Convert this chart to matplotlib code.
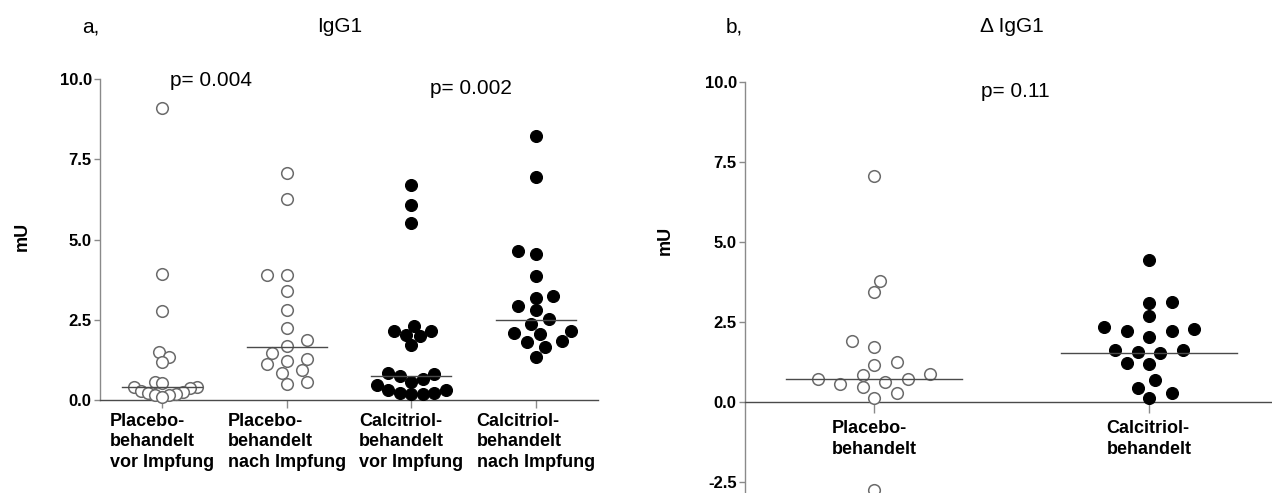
import numpy as np
import matplotlib
matplotlib.use("Agg")
import matplotlib.pyplot as plt

plt.rcParams["font.family"] = ["Liberation Sans", "DejaVu Sans"]

# panel a: IgG1 (mU)
groups_a = [
    "Placebo-\nbehandelt\nvor Impfung",
    "Placebo-\nbehandelt\nnach Impfung",
    "Calcitriol-\nbehandelt\nvor Impfung",
    "Calcitriol-\nbehandelt\nnach Impfung",
]
placebo_vor = [9.09, 3.91, 2.76, 1.48, 1.35, 1.18, 0.57, 0.54, 0.42, 0.42,
               0.36, 0.28, 0.26, 0.21, 0.18, 0.16, 0.16, 0.10]
placebo_nach = [7.08, 6.25, 3.88, 3.88, 3.41, 2.81, 2.23, 1.88, 1.69, 1.46,
                1.29, 1.23, 1.11, 0.92, 0.83, 0.57, 0.49]
calcitriol_vor = [6.70, 6.07, 5.52, 2.32, 2.14, 2.14, 2.03, 1.98, 1.70, 0.83,
                  0.81, 0.75, 0.65, 0.57, 0.47, 0.31, 0.31, 0.21, 0.21, 0.19, 0.18]
calcitriol_nach = [8.21, 6.95, 4.64, 4.56, 3.85, 3.23, 3.17, 2.92, 2.81, 2.52,
                   2.38, 2.14, 2.10, 2.06, 1.84, 1.82, 1.65, 1.35]
medians_a = [0.39, 1.66, 0.76, 2.48]
filled_a = [False, False, True, True]
pvals_a = ["p= 0.004", "p= 0.002"]

# panel b: delta IgG1 (mU)
groups_b = ["Placebo-\nbehandelt", "Calcitriol-\nbehandelt"]
delta_placebo = [7.05, 3.79, 3.45, 1.90, 1.72, 1.24, 1.17, 0.89, 0.84, 0.73,
                 0.71, 0.63, 0.55, 0.47, 0.28, 0.14, -2.75]
delta_calcitriol = [4.44, 3.13, 3.08, 2.70, 2.33, 2.29, 2.23, 2.23, 2.02, 1.62,
                    1.62, 1.56, 1.52, 1.23, 1.20, 0.68, 0.45, 0.29, 0.13]
medians_b = [0.73, 1.54]
filled_b = [False, True]
pval_b = "p= 0.11"

yticks_a = [0, 2.5, 5, 7.5, 10]
yticks_b = [-2.5, 0, 2.5, 5, 7.5, 10]

W, H = 1272, 493
GRAY = "#8a8a8a"
DARK = "#4a4a4a"


def greedy_swarm(ypix, gap_x, gap_y=11.0):
    # place points bottom-up at the free offset nearest the centre line
    step = gap_x / 4
    placed = []
    offs = np.zeros(len(ypix))
    right = left = 0
    for i in np.argsort(ypix):
        y = ypix[i]
        dx = 0.0
        for k in range(0, 200):
            signs = [1, -1] if right <= left else [-1, 1]
            cands = [0] if k == 0 else [s * k * step for s in signs]
            hit = None
            for c in cands:
                if all(((c - px) / gap_x) ** 2 + ((y - py) / gap_y) ** 2 >= 1
                       for px, py in placed):
                    hit = c
                    break
            if hit is not None:
                dx = hit
                break
        placed.append((dx, y))
        right += dx > 0
        left += dx < 0
        offs[i] = dx
    return offs


def swarm_offsets(ax, x0, values, gap_x, limit_px):
    trans = ax.transData
    vals = np.asarray(values, dtype=float)
    ypix = trans.transform(np.column_stack([np.full(len(vals), x0), vals]))[:, 1]
    unit = trans.transform([[1, 0]])[0, 0] - trans.transform([[0, 0]])[0, 0]
    g = gap_x
    offs = greedy_swarm(ypix, g)
    while np.abs(offs).max() > limit_px and g > 6:
        g -= 0.5
        offs = greedy_swarm(ypix, g)
    return offs / unit


def draw_group(ax, x0, values, filled, median, gap_x, limit_px):
    offs = swarm_offsets(ax, x0, values, gap_x, limit_px)
    if filled:
        ax.scatter(x0 + offs, values, s=74, facecolor="black", edgecolor="black",
                   linewidths=0.8, zorder=3, clip_on=False)
    else:
        ax.scatter(x0 + offs, values, s=70, facecolor="white", edgecolor="#6a6a6a",
                   linewidths=1.1, zorder=3, clip_on=False)
    ax.plot([x0 - 0.32, x0 + 0.32], [median, median], color=DARK, lw=1.0, zorder=4)


def style_axes(ax, yticks):
    for side in ("top", "right"):
        ax.spines[side].set_visible(False)
    ax.spines["left"].set_color(GRAY)
    ax.spines["left"].set_linewidth(1.0)
    ax.spines["bottom"].set_color(DARK)
    ax.spines["bottom"].set_linewidth(1.0)
    ax.set_yticks(yticks)
    ax.set_yticklabels([f"{t:.1f}" for t in yticks], fontsize=12, fontweight="bold")
    ax.tick_params(axis="y", length=4, width=1.0, color=GRAY, pad=2)
    ax.set_facecolor("none")


fig = plt.figure(figsize=(W / 100, H / 100), dpi=100)

# panel a
ax1 = fig.add_axes([100 / W, (H - 400) / H, 498 / W, 321 / H])
ax1.set_xlim(-0.5, 3.5)
ax1.set_ylim(0, 10)
style_axes(ax1, yticks_a)
ax1.set_xticks(range(len(groups_a)))
ax1.set_xticklabels(groups_a, fontsize=13, fontweight="bold", multialignment="left",
                    linespacing=1.3)
ax1.tick_params(axis="x", length=6, width=1.0, color=GRAY, pad=3)
for i, (vals, fill, med) in enumerate(zip(
        [placebo_vor, placebo_nach, calcitriol_vor, calcitriol_nach], filled_a, medians_a)):
    draw_group(ax1, i, vals, fill, med, gap_x=20, limit_px=35)

# panel b
ax2 = fig.add_axes([745 / W, (H - 498) / H, 541.5 / W, 416 / H])
ax2.set_xlim(-0.47, 1.5)
ax2.set_ylim(-3, 10)
style_axes(ax2, yticks_b)
ax2.spines["bottom"].set_position(("data", 0))
ax2.set_xticks(range(len(groups_b)))
ax2.set_xticklabels(groups_b, fontsize=13, fontweight="bold", multialignment="left",
                    linespacing=1.3)
ax2.tick_params(axis="x", length=8, width=1.0, color=GRAY, pad=5)
for i, (vals, fill, med) in enumerate(zip(
        [delta_placebo, delta_calcitriol], filled_b, medians_b)):
    draw_group(ax2, i, vals, fill, med, gap_x=22.5, limit_px=68)


def ftext(x, y, s, **kw):
    fig.text(x / W, 1 - y / H, s, ha="center", va="center", **kw)


ftext(91, 27, "a,", fontsize=15)
ftext(340, 27, "IgG1", fontsize=15)
ftext(734, 27, "b,", fontsize=15)
ftext(1012, 27, "Δ IgG1", fontsize=15)
ftext(211, 80, pvals_a[0], fontsize=15)
ftext(471, 89, pvals_a[1], fontsize=15)
ftext(1015, 92, pval_b, fontsize=15)
ftext(22, 236, "mU", fontsize=13, fontweight="bold", rotation=90)
ftext(665, 240, "mU", fontsize=13, fontweight="bold", rotation=90)

fig.savefig("out.png", dpi=100)
